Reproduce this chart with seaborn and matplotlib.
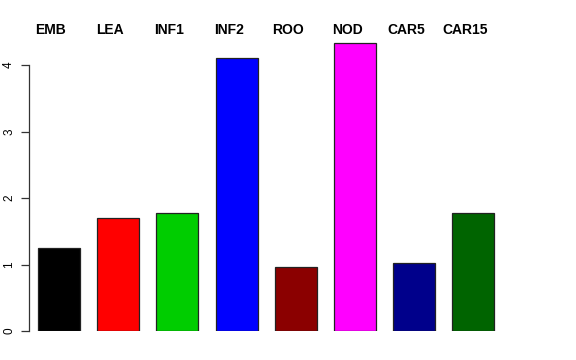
import matplotlib
matplotlib.use("Agg")
import matplotlib.pyplot as plt
import seaborn as sns
import pandas as pd

categories = ["EMB", "LEA", "INF1", "INF2", "ROO", "NOD", "CAR5", "CAR15"]
values = [1.25, 1.70, 1.77, 4.11, 0.96, 4.33, 1.02, 1.77]
colors = ["#000000", "#FF0000", "#00CD00", "#0000FF", "#8B0000", "#FF00FF", "#00008B", "#006400"]
yticks = [0, 1, 2, 3, 4]

sns.set_theme(style="white")
plt.rcParams['font.family'] = ['Liberation Sans', 'DejaVu Sans']
plt.rcParams['text.color'] = 'black'
plt.rcParams['ytick.color'] = 'black'

df = pd.DataFrame({"cat": categories, "val": values})

fig = plt.figure(figsize=(5.76, 3.6), dpi=100)
W, H = 576, 360
px_left, px_right = 29, 560
y0_px = 331
unit = 66.5
ytop = 4.4
ax = fig.add_axes([px_left / W, (H - y0_px) / H, (px_right - px_left) / W, ytop * unit / H])

sns.barplot(data=df, x="cat", y="val", hue="cat", palette=colors, legend=False,
            width=0.71, edgecolor="#222222", linewidth=0.9, ax=ax, saturation=1)

step = 59.2
c0 = 59
ax.set_xlim((px_left - c0) / step, (px_right - c0) / step)
ax.set_ylim(0, ytop)

for s in ["top", "right", "bottom"]:
    ax.spines[s].set_visible(False)
ax.spines["left"].set_bounds(0, 4)
ax.spines["left"].set_color("#333333")
ax.spines["left"].set_linewidth(0.9)
ax.set_yticks(yticks)
ax.set_yticklabels([str(t) for t in yticks], rotation=90, va="center", fontsize=8.5,
                   color="black")
ax.tick_params(axis="y", left=True, length=6, width=0.9, color="#333333", pad=4)
ax.set_xticks([])
ax.set_xlabel("")
ax.set_ylabel("")

off = 8 / step
label_y = (y0_px - 30) / unit
for i, c in enumerate(categories):
    ax.text(i - off, label_y, c, ha="center", va="center", fontsize=10,
            fontweight="bold", color="black", clip_on=False)

fig.savefig("out.png", dpi=100)
